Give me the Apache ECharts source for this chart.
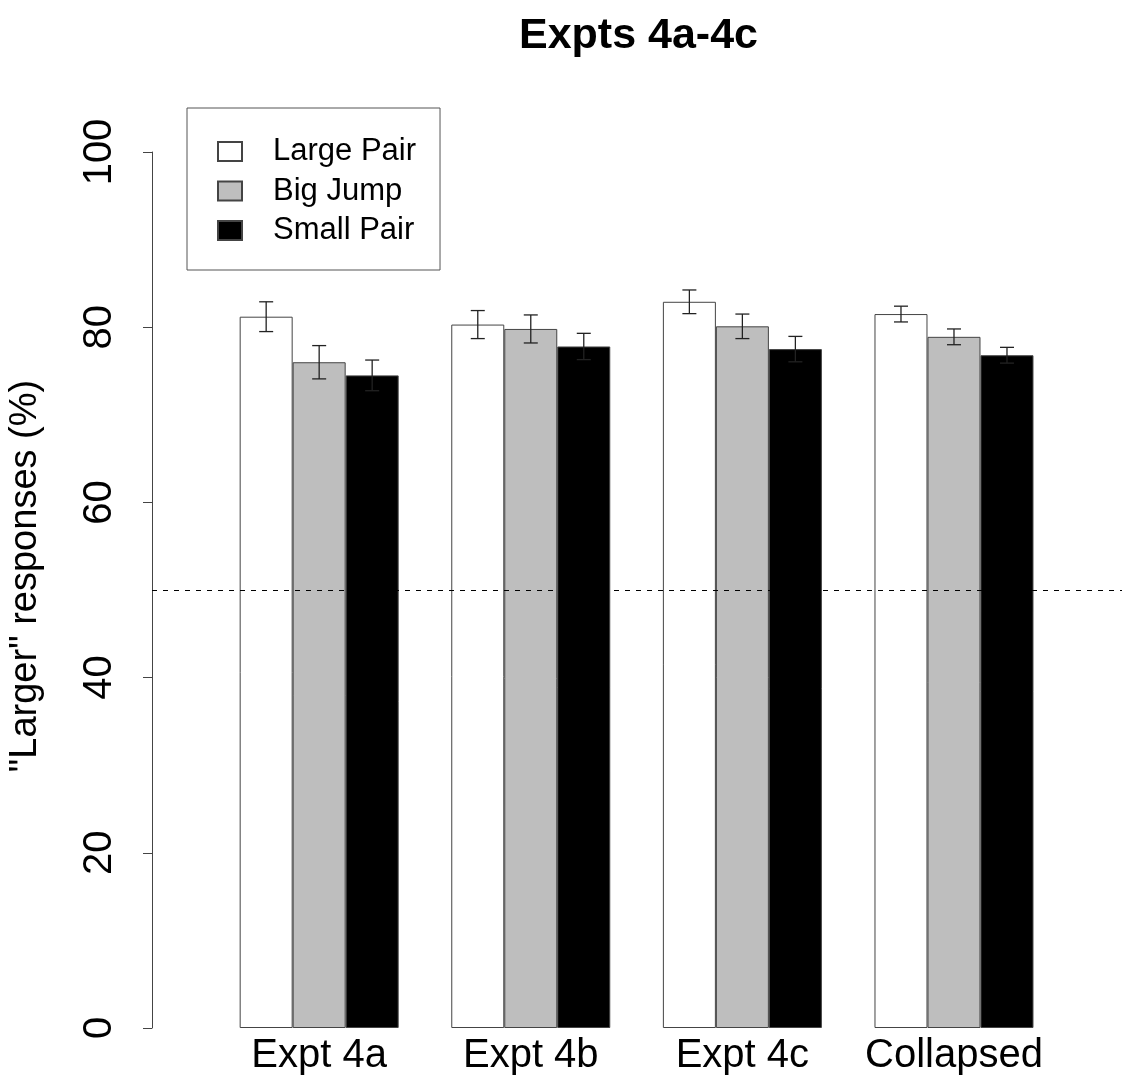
<!DOCTYPE html>
<html>
<head>
<meta charset="utf-8">
<script src="https://cdn.jsdelivr.net/npm/echarts@6/dist/echarts.min.js"></script>
<style>
  html, body { margin: 0; padding: 0; background: #fff; }
  #chart { width: 1129px; height: 1084px; }
</style>
</head>
<body>
<div id="chart"></div>
<script>
// 数据
var categories = ["Expt 4a", "Expt 4b", "Expt 4c", "Collapsed"];
var largePair = [81.2, 80.3, 82.9, 81.5];
var bigJump = [76.0, 79.8, 80.1, 78.9];
var smallPair = [74.5, 77.8, 77.5, 76.8];
var largePairErr = [1.7, 1.6, 1.35, 0.9];
var bigJumpErr = [1.9, 1.6, 1.4, 0.9];
var smallPairErr = [1.75, 1.5, 1.45, 0.9];
var yTicks = [0, 20, 40, 60, 80, 100];
var chance = 50;

var font = "'Liberation Sans', Arial, sans-serif";
var barW = 53;

function barData(vals) {
  return vals.map(function (v, i) { return [i + 1, v]; });
}
function errData(vals, errs) {
  return vals.map(function (v, i) { return [i + 1, v - errs[i], v + errs[i]]; });
}
// 误差线
function errSeries(name, vals, errs, offset) {
  return {
    name: name + " err",
    type: "custom",
    z: 5,
    silent: true,
    data: errData(vals, errs),
    encode: { x: 0, y: [1, 2] },
    renderItem: function (params, api) {
      var lo = api.coord([api.value(0), api.value(1)]);
      var hi = api.coord([api.value(0), api.value(2)]);
      var x = lo[0] + offset;
      var cap = 7;
      var style = { stroke: "#222", lineWidth: 1.3 };
      return {
        type: "group",
        children: [
          { type: "line", shape: { x1: x, y1: lo[1], x2: x, y2: hi[1] }, style: style },
          { type: "line", shape: { x1: x - cap, y1: lo[1], x2: x + cap, y2: lo[1] }, style: style },
          { type: "line", shape: { x1: x - cap, y1: hi[1], x2: x + cap, y2: hi[1] }, style: style }
        ]
      };
    }
  };
}

var myChart = echarts.init(document.getElementById("chart"));
myChart.setOption({
  animation: false,
  backgroundColor: "#fff",
  title: {
    text: "Expts 4a-4c",
    left: 514,
    top: 10,
    textStyle: { fontFamily: font, fontSize: 43, fontWeight: "bold", color: "#000" }
  },
  legend: {
    orient: "vertical",
    left: 187,
    top: 108,
    padding: [28, 24, 24, 30],
    borderColor: "#555",
    borderWidth: 1,
    itemWidth: 24,
    itemHeight: 19,
    itemGap: 8.5,
    icon: "rect",
    textStyle: { fontFamily: font, fontSize: 31, color: "#000", padding: [0, 0, 0, 26] },
    data: ["Large Pair", "Big Jump", "Small Pair"]
  },
  grid: { left: 152, right: 7, top: 152, bottom: 56, outerBoundsMode: "none" },
  xAxis: {
    type: "value",
    min: 0.21,
    max: 4.794,
    axisLine: { show: false },
    axisTick: { show: false },
    splitLine: { show: false },
    axisLabel: {
      customValues: [1, 2, 3, 4],
      formatter: function (v) { return categories[Math.round(v) - 1] || ""; },
      fontFamily: font,
      fontSize: 40,
      color: "#000",
      margin: 8
    }
  },
  yAxis: {
    type: "value",
    min: 0,
    max: 100,
    interval: 20,
    name: '"Larger" responses (%)',
    nameLocation: "middle",
    nameRotate: 90,
    nameGap: 107,
    nameTextStyle: { fontFamily: font, fontSize: 38, color: "#000", padding: [0, 0, 0, 28] },
    axisLine: { show: true, lineStyle: { color: "#444", width: 1 } },
    axisTick: { show: true, inside: false, length: 9, lineStyle: { color: "#444" } },
    splitLine: { show: false },
    axisLabel: {
      rotate: 90,
      fontFamily: font,
      fontSize: 40,
      color: "#000",
      margin: 32,
      formatter: function (v) { return yTicks.indexOf(v) >= 0 ? String(v) : ""; }
    }
  },
  series: [
    {
      name: "Large Pair",
      type: "bar",
      barWidth: barW,
      barGap: "0%",
      data: barData(largePair),
      itemStyle: { color: "#fff", borderColor: "#444", borderWidth: 1 },
      markLine: {
        silent: true,
        symbol: "none",
        label: { show: false },
        lineStyle: { color: "#000", type: [5, 6], width: 1.2 },
        data: [{ yAxis: chance }]
      }
    },
    {
      name: "Big Jump",
      type: "bar",
      barWidth: barW,
      barGap: "0%",
      data: barData(bigJump),
      itemStyle: { color: "#bebebe", borderColor: "#444", borderWidth: 1 }
    },
    {
      name: "Small Pair",
      type: "bar",
      barWidth: barW,
      barGap: "0%",
      data: barData(smallPair),
      itemStyle: { color: "#000", borderColor: "#444", borderWidth: 1 }
    },
    errSeries("Large Pair", largePair, largePairErr, -barW),
    errSeries("Big Jump", bigJump, bigJumpErr, 0),
    errSeries("Small Pair", smallPair, smallPairErr, barW)
  ]
});
</script>
</body>
</html>
